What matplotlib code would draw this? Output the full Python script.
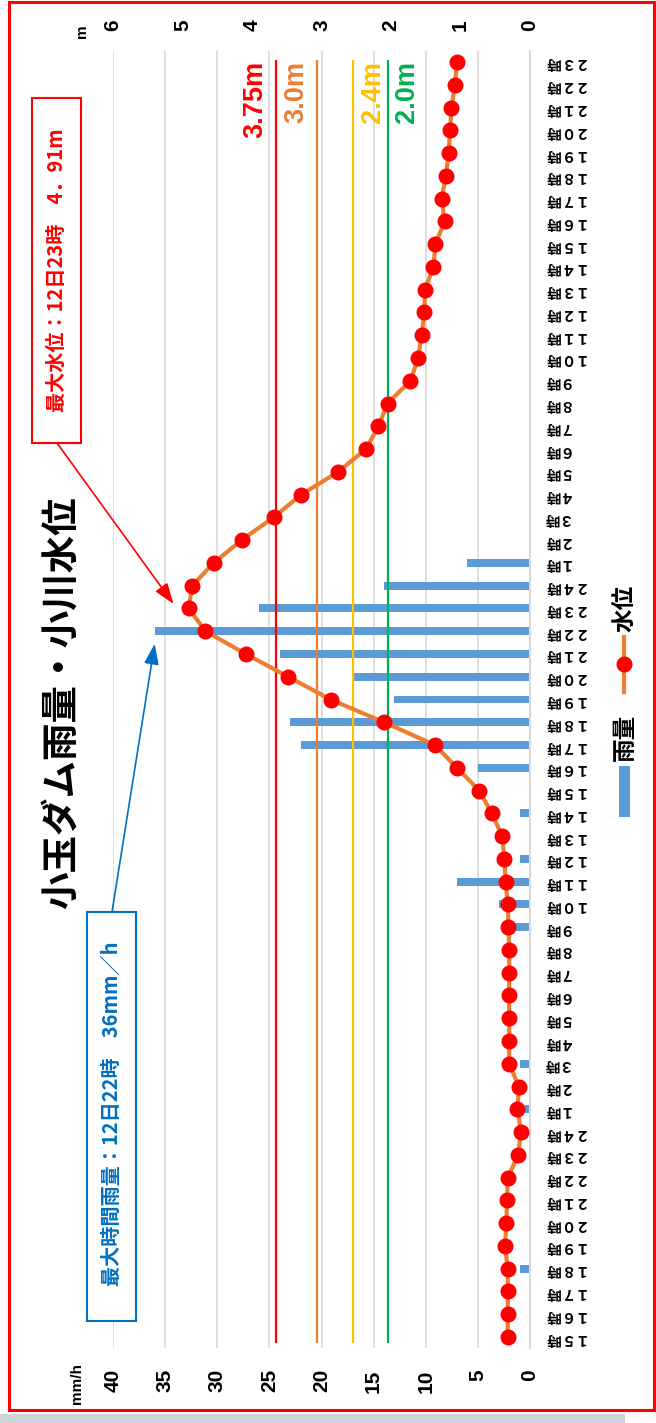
import matplotlib
matplotlib.use('Agg')
import matplotlib.pyplot as plt
from matplotlib.patches import Rectangle
from matplotlib.lines import Line2D

plt.rcParams['font.family'] = ['Liberation Sans', 'Noto Sans CJK JP', 'DejaVu Sans']
JP = ['Noto Sans CJK JP', 'DejaVu Sans']

W, H = 656, 1423

# hours from 11th 15:00 to 13th 23:00
hours = list(range(15, 25)) + list(range(1, 25)) + list(range(1, 24))
ZEN = str.maketrans('0123456789', '０１２３４５６７８９')
hour_labels = [str(h).translate(ZEN) + '時' for h in hours]

# hourly rainfall (mm/h)
rain = [0, 0, 0, 1, 0, 0, 0, 0, 0, 0,
        0.5, 0, 1, 0, 0, 0, 0, 0, 1.5, 3, 7, 1, 0, 1, 0, 5, 22, 23, 13, 17, 24, 36, 26, 14,
        6, 0, 0, 0, 0, 0, 0, 0, 0, 0, 0, 0, 0, 0, 0, 0, 0, 0, 0, 0, 0, 0, 0]

# water level (m)
level = [0.32, 0.32, 0.32, 0.32, 0.36, 0.34, 0.33, 0.32, 0.17, 0.13,
         0.18, 0.16, 0.30, 0.30, 0.30, 0.30, 0.30, 0.30, 0.31, 0.32, 0.35, 0.37,
         0.40, 0.55, 0.73, 1.05, 1.37, 2.10, 2.87, 3.48, 4.09, 4.67, 4.91, 4.86,
         4.55, 4.15, 3.69, 3.29, 2.76, 2.36, 2.18, 2.05, 1.72, 1.61, 1.56, 1.52,
         1.51, 1.39, 1.36, 1.23, 1.27, 1.21, 1.17, 1.15, 1.13, 1.08, 1.05]

# warning lines (label / where drawn on the chart)
warn_labels = ['3.75m', '3.0m', '2.4m', '2.0m']
warn_levels = [3.66, 3.07, 2.54, 2.04]
warn_colors = ['#FF0000', '#ED7D31', '#FFC000', '#00B050']

mm_ticks = list(range(0, 45, 5))
m_ticks = list(range(0, 7))

BLUE = '#5B9BD5'
ORANGE = '#ED7D31'

idx = list(range(len(hours)))

fig = plt.figure(figsize=(W / 100, H / 100), dpi=100)


def px(x, y):
    # image pixel (top-left origin) -> figure fraction
    return x / W, 1 - y / H


# outer frame and screenshot strip
fig.add_artist(Rectangle(px(9, 1410), 645 / W, 1408 / H, fill=False,
                         ec='#FF0000', lw=2.2, transform=fig.transFigure))
fig.add_artist(Rectangle(px(0, 1423), 625 / W, 9 / H, fc='#cfd4d8', ec='none',
                         transform=fig.transFigure))

ax = fig.add_axes([113 / W, 1 - 1348.4 / H, (530 - 113) / W, (1348.4 - 50.6) / H])
ax.barh(idx, rain, height=0.35, color=BLUE, zorder=2)
ax.set_xlim(40, 0)
ax.set_ylim(-0.5, len(hours) - 0.5)
ax.grid(axis='x', color='#D9D9D9', lw=1.2, zorder=0)
ax.set_axisbelow(True)
for s in ['left', 'top', 'bottom']:
    ax.spines[s].set_visible(False)
ax.spines['right'].set_color('#D9D9D9')
ax.spines['right'].set_linewidth(1.5)

ax.set_xticks(mm_ticks, [str(v) for v in mm_ticks], rotation=90,
              fontsize=15, fontweight='bold')
ax.tick_params(axis='x', length=0, pad=15)
ax.set_yticks(idx, hour_labels, rotation=180, fontsize=10.5,
              fontweight='bold', family=JP)
ax.yaxis.tick_right()
ax.tick_params(axis='y', length=0, pad=7)

ax2 = ax.twiny()
ax2.set_xlim(6, 0)
for s in ax2.spines.values():
    s.set_visible(False)
ax2.set_xticks(m_ticks, [str(v) for v in m_ticks], rotation=90,
               fontsize=15, fontweight='bold')
ax2.tick_params(axis='x', length=0, pad=14)

ax2.vlines(warn_levels, -0.25, 56.1, colors=warn_colors, lw=1.6, zorder=2)
for lab, lv, c in zip(warn_labels, warn_levels, warn_colors):
    left_side = lv > 2.8
    ax2.text(lv + (0.11 if left_side else -0.09), 56.05, lab, color=c,
             rotation=90, fontsize=19.5, fontweight='bold',
             ha='right' if left_side else 'left', va='top', zorder=3)

ax2.plot(level, idx, color=ORANGE, lw=3, marker='o', ms=10.5,
         mfc='#FF0000', mec='#FF0000', zorder=4)

# title
fig.text(*px(62, 703), '小玉ダム雨量・小川水位', rotation=90, fontsize=27,
         fontweight='bold', family=JP, ha='center', va='center')

# axis units
fig.text(*px(77, 1384), 'mm/h', rotation=90, fontsize=11, fontweight='bold',
         ha='center', va='center')
fig.text(*px(82, 31), 'm', rotation=90, fontsize=11, fontweight='bold',
         ha='center', va='center')

# max water level callout
imax = level.index(max(level))
fig.add_artist(Rectangle(px(32, 443), 49 / W, 345 / H, fc='white', ec='#FF0000',
                         lw=1.5, transform=fig.transFigure))
fig.text(*px(56.5, 270), '最大水位：12日23時　4．91m', rotation=90, fontsize=14.5,
         fontweight='bold', color='#FF0000', family=JP, ha='center', va='center')
ax2.annotate('', xy=(level[imax] + 0.22, imax + 0.2), xycoords='data',
             xytext=(57, H - 443), textcoords='figure pixels',
             arrowprops=dict(arrowstyle='-|>,head_length=0.7,head_width=0.25',
                             color='#FF0000', lw=1.2, shrinkA=0, shrinkB=0,
                             mutation_scale=18))

# max rainfall callout
rmax = rain.index(max(rain))
fig.add_artist(Rectangle(px(87, 1321), 49 / W, 409 / H, fc='white', ec='#0070C0',
                         lw=1.5, transform=fig.transFigure))
fig.text(*px(111.5, 1114), '最大時間雨量：12日22時　36mm／h', rotation=90,
         fontsize=14.5, fontweight='bold', color='#0070C0', family=JP,
         ha='center', va='center')
ax.annotate('', xy=(rain[rmax], rmax - 0.55), xycoords='data',
            xytext=(112, H - 912), textcoords='figure pixels',
            arrowprops=dict(arrowstyle='-|>,head_length=0.7,head_width=0.25',
                            color='#0070C0', lw=1.2, shrinkA=0, shrinkB=0,
                            mutation_scale=18))

# legend (drawn sideways like the rest of the chart)
fig.add_artist(Rectangle(px(619, 817), 11 / W, 51 / H, fc=BLUE, ec='none',
                         transform=fig.transFigure))
fig.text(*px(625, 737), '雨量', rotation=90, fontsize=17, fontweight='bold',
         family=JP, ha='center', va='center')
x0, y0 = px(624, 692)
x1, y1 = px(624, 637)
fig.add_artist(Line2D([x0, x1], [y0, y1], color=ORANGE, lw=3,
                      transform=fig.transFigure))
fig.add_artist(Line2D([x0], [px(624, 664)[1]], marker='o', ms=10.5,
                      color='#FF0000', transform=fig.transFigure))
fig.text(*px(625, 608), '水位', rotation=90, fontsize=17, fontweight='bold',
         family=JP, ha='center', va='center')

fig.savefig('out.png', dpi=100)
